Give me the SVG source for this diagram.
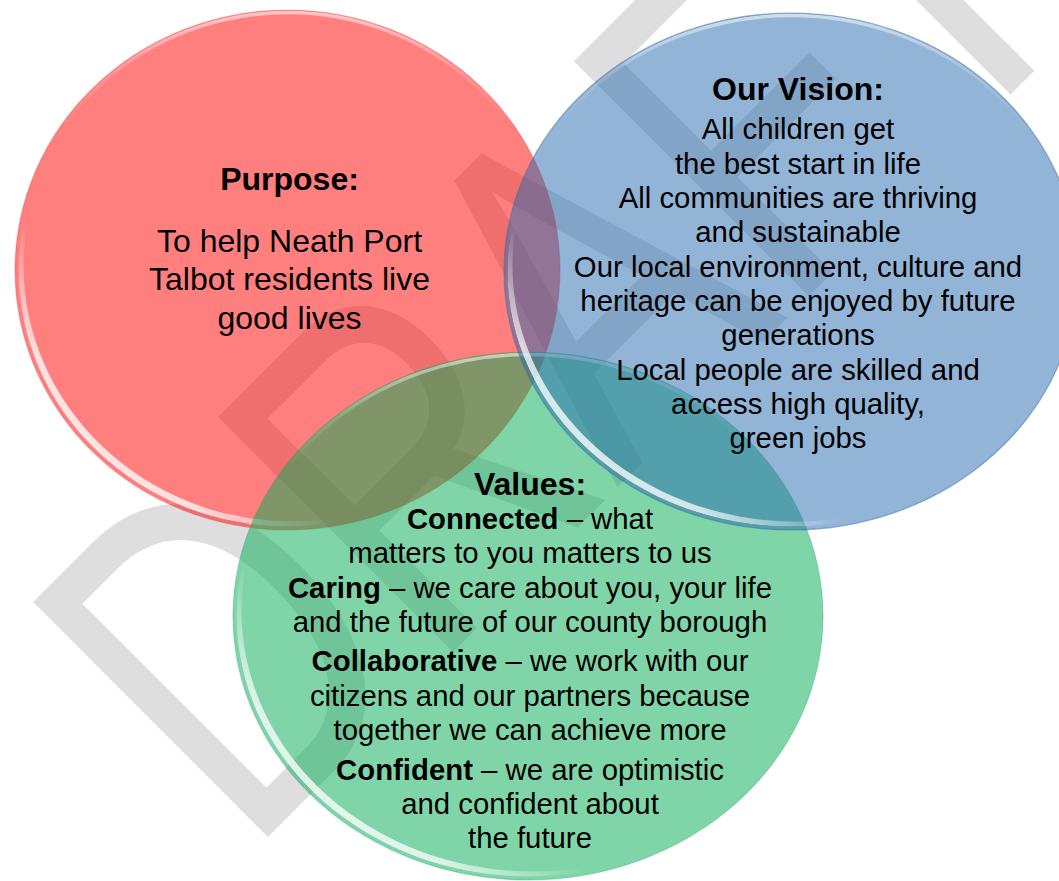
<svg xmlns="http://www.w3.org/2000/svg" width="1059" height="881" viewBox="0 0 1059 881">
  <style>
    .txt { font-family: "Liberation Sans", Arial, sans-serif; fill: #000; text-anchor: middle; }
    .title { font-size: 32px; font-weight: bold; }
    .big { font-size: 32px; }
    .body { font-size: 29.33px; }
    .b { font-weight: bold; }
    .mark { font-family: "Liberation Sans", Arial, sans-serif; font-size: 483px; fill: #dedede; }
    .outline { fill: none; stroke-width: 1.2; }
    .toprim { fill: none; stroke: url(#rimTop); stroke-width: 3.5; }
    .gloss { fill: url(#rimLow); fill-rule: evenodd; }
  </style>
  <defs>
    <linearGradient id="rimLow" x1="0" y1="1" x2="1" y2="0">
      <stop offset="0" stop-color="#fff" stop-opacity="0.9"/>
      <stop offset="0.18" stop-color="#fff" stop-opacity="0.75"/>
      <stop offset="0.3" stop-color="#fff" stop-opacity="0"/>
    </linearGradient>
    <linearGradient id="rimTop" x1="0" y1="0" x2="0" y2="1">
      <stop offset="0" stop-color="#fff" stop-opacity="0.55"/>
      <stop offset="0.12" stop-color="#fff" stop-opacity="0.15"/>
      <stop offset="0.22" stop-color="#fff" stop-opacity="0"/>
    </linearGradient>
    <clipPath id="clipRed"><ellipse cx="287.5" cy="270" rx="269" ry="256.5"/></clipPath>
    <clipPath id="clipGreen"><ellipse cx="528" cy="616" rx="291.5" ry="260.5"/></clipPath>
    <clipPath id="clipBlue"><ellipse cx="791" cy="271.5" rx="283.5" ry="255"/></clipPath>
  </defs>

  <rect width="1059" height="881" fill="#fff"/>

  <!-- watermark lettering behind the circles -->
  <g id="watermark">
    <text class="mark" transform="translate(247,858) rotate(-45) scale(0.75,1)">DRAFT</text>
  </g>

  <!-- Purpose circle -->
  <g id="node-purpose">
    <ellipse cx="287.5" cy="270" rx="272.5" ry="260" fill="#ff0000" fill-opacity="0.5"/>
    <ellipse cx="287.5" cy="270" rx="270" ry="257.5" class="toprim"/>
    <path class="gloss" clip-path="url(#clipRed)" d="M18.5,270 a269,256.5 0 1,0 538,0 a269,256.5 0 1,0 -538,0 Z M23.5,265 a269,256.5 0 1,0 538,0 a269,256.5 0 1,0 -538,0 Z"/>
    <ellipse cx="287.5" cy="270" rx="272.5" ry="260" class="outline" stroke="#e04040" stroke-opacity="0.3"/>
    <text class="txt title" x="289.5" y="190">Purpose:</text>
    <text class="txt big" x="289.5" y="251.7">To help Neath Port</text>
    <text class="txt big" x="289.5" y="290.3">Talbot residents live</text>
    <text class="txt big" x="289.5" y="328.5">good lives</text>
  </g>

  <!-- Values circle -->
  <g id="node-values">
    <ellipse cx="528" cy="616" rx="295" ry="264" fill="#01ab51" fill-opacity="0.5"/>
    <ellipse cx="528" cy="616" rx="292.5" ry="261.5" class="toprim"/>
    <path class="gloss" clip-path="url(#clipGreen)" d="M236.5,616 a291.5,260.5 0 1,0 583,0 a291.5,260.5 0 1,0 -583,0 Z M241.5,611 a291.5,260.5 0 1,0 583,0 a291.5,260.5 0 1,0 -583,0 Z"/>
    <ellipse cx="528" cy="616" rx="295" ry="264" class="outline" stroke="#3aa870" stroke-opacity="0.35"/>
    <text class="txt title" x="530" y="495">Values:</text>
    <text class="txt body" x="530" y="528.5"><tspan class="b">Connected</tspan> – what</text>
    <text class="txt body" x="530" y="563">matters to you matters to us</text>
    <text class="txt body" x="530" y="598"><tspan class="b">Caring</tspan> – we care about you, your life</text>
    <text class="txt body" x="530" y="632">and the future of our county borough</text>
    <text class="txt body" x="530" y="671"><tspan class="b">Collaborative</tspan> – we work with our</text>
    <text class="txt body" x="530" y="705.5">citizens and our partners because</text>
    <text class="txt body" x="530" y="740">together we can achieve more</text>
    <text class="txt body" x="530" y="779.5"><tspan class="b">Confident</tspan> – we are optimistic</text>
    <text class="txt body" x="530" y="813.5">and confident about</text>
    <text class="txt body" x="530" y="848">the future</text>
  </g>

  <!-- Vision circle -->
  <g id="node-vision">
    <ellipse cx="791" cy="271.5" rx="287" ry="258.5" fill="#2569ad" fill-opacity="0.5"/>
    <ellipse cx="791" cy="271.5" rx="284.5" ry="256" class="toprim"/>
    <path class="gloss" clip-path="url(#clipBlue)" d="M507.5,271.5 a283.5,255 0 1,0 567,0 a283.5,255 0 1,0 -567,0 Z M512.5,266.5 a283.5,255 0 1,0 567,0 a283.5,255 0 1,0 -567,0 Z"/>
    <ellipse cx="791" cy="271.5" rx="287" ry="258.5" class="outline" stroke="#3f6f9f" stroke-opacity="0.5"/>
    <text class="txt title" x="798" y="100">Our Vision:</text>
    <text class="txt body" x="798" y="139.3">All children get</text>
    <text class="txt body" x="798" y="173.7">the best start in life</text>
    <text class="txt body" x="798" y="208">All communities are thriving</text>
    <text class="txt body" x="798" y="242.3">and sustainable</text>
    <text class="txt body" x="798" y="276.7">Our local environment, culture and</text>
    <text class="txt body" x="798" y="311">heritage can be enjoyed by future</text>
    <text class="txt body" x="798" y="345.3">generations</text>
    <text class="txt body" x="798" y="379.5">Local people are skilled and</text>
    <text class="txt body" x="798" y="413.8">access high quality,</text>
    <text class="txt body" x="798" y="448">green jobs</text>
  </g>
</svg>
